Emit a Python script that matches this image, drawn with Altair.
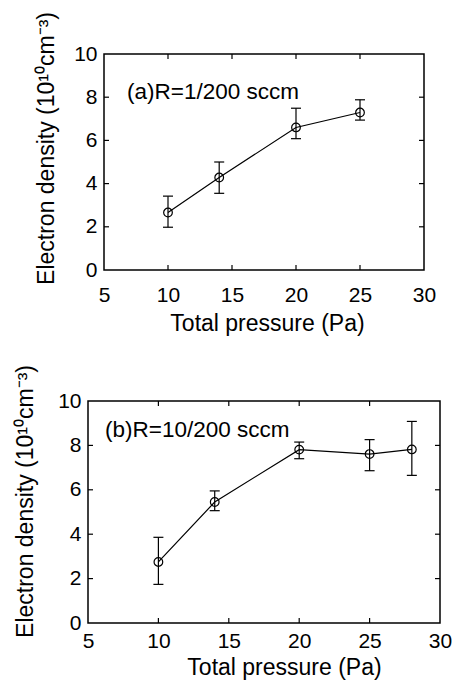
import altair as alt
import pandas as pd

# ---- data ----
xticks = [5, 10, 15, 20, 25, 30]
yticks = [0, 2, 4, 6, 8, 10]
inner_xticks = [10, 15, 20, 25]
inner_yticks = [2, 4, 6, 8]

p_a = [10, 14, 20, 25]
n_a = [2.66, 4.28, 6.60, 7.29]
lo_a = [1.98, 3.55, 6.08, 6.94]
hi_a = [3.42, 5.00, 7.49, 7.88]

p_b = [10, 14, 20, 25, 28]
n_b = [2.75, 5.45, 7.81, 7.61, 7.82]
lo_b = [1.74, 5.06, 7.40, 6.86, 6.65]
hi_b = [3.86, 5.95, 8.15, 8.26, 9.08]

label_a = "(a)R=1/200 sccm"
label_b = "(b)R=10/200 sccm"
xtitle = "Total pressure (Pa)"
ytitle = "Electron density (10\u00b9\u2070cm\u207b\u00b3)"

FONT = "Liberation Sans"


def panel(P, N, LO, HI, label, W, H, lab_pad_x, xt_x, xt_y, yt_x, yt_y, ann_x, ann_y):
    df = pd.DataFrame({"P": P, "n": N, "lo": LO, "hi": HI})
    xs = alt.Scale(domain=[5, 30], nice=False, zero=False)
    ys = alt.Scale(domain=[0, 10], nice=False, zero=False)
    xax = alt.Axis(values=xticks, grid=False, domain=False, ticks=False, tickSize=0,
                   labelPadding=lab_pad_x, labelBaseline="alphabetic", labelFlush=False,
                   labelOverlap=False, title=xtitle, titleX=xt_x, titleY=xt_y,
                   titleBaseline="alphabetic", titleAlign="center")
    yax = alt.Axis(values=yticks, grid=False, domain=False, ticks=False, tickSize=0,
                   labelPadding=7, labelFlush=False, labelOverlap=False,
                   title=ytitle, titleX=yt_x, titleY=yt_y, titleBaseline="bottom",
                   titleAlign="center", titleAngle=270)
    X = lambda f: alt.X(f, type="quantitative", scale=xs, axis=xax)
    Y = lambda f: alt.Y(f, type="quantitative", scale=ys, axis=yax)

    base = alt.Chart(df)
    line = base.mark_line(color="black", strokeWidth=1.2).encode(x=X("P"), y=Y("n"))
    pts = base.mark_point(shape="circle", filled=False, size=75, color="black",
                          strokeWidth=1.2, opacity=1).encode(x=X("P"), y=Y("n"))
    err = base.mark_rule(color="black", strokeWidth=1.2).encode(x=X("P"), y=Y("lo"), y2="hi")
    cap_lo = base.mark_tick(orient="horizontal", size=10, thickness=1.2, color="black",
                            opacity=1).encode(x=X("P"), y=Y("lo"))
    cap_hi = base.mark_tick(orient="horizontal", size=10, thickness=1.2, color="black",
                            opacity=1).encode(x=X("P"), y=Y("hi"))

    xt = alt.Chart(pd.DataFrame({"P": inner_xticks}))
    yt = alt.Chart(pd.DataFrame({"n": inner_yticks}))
    tb = xt.mark_rule(color="black", strokeWidth=1.2).encode(
        x=X("P"), y=alt.value(H), y2=alt.value(H - 5))
    tt = xt.mark_rule(color="black", strokeWidth=1.2).encode(
        x=X("P"), y=alt.value(0), y2=alt.value(5))
    tl = yt.mark_rule(color="black", strokeWidth=1.2).encode(
        y=Y("n"), x=alt.value(0), x2=alt.value(5))
    tr = yt.mark_rule(color="black", strokeWidth=1.2).encode(
        y=Y("n"), x=alt.value(W), x2=alt.value(W - 5))

    ann = alt.Chart(pd.DataFrame({"t": [label]})).mark_text(
        align="left", baseline="alphabetic", font=FONT, fontSize=22.5, color="black"
    ).encode(text="t:N", x=alt.value(ann_x), y=alt.value(ann_y))

    return alt.layer(tb, tt, tl, tr, err, cap_lo, cap_hi, line, pts, ann).properties(
        width=W, height=H)


a = panel(p_a, n_a, lo_a, hi_a, label_a, 320, 216, 31, 163, 60, -46, 94, 23, 45)
b = panel(p_b, n_b, lo_b, hi_b, label_b, 352, 222, 24, 196, 51, -51, 100, 17, 36)

chart = alt.vconcat(a, b, spacing=131, center=True, bounds="flush").properties(
    padding={"left": 13, "top": 10, "right": 0, "bottom": 0},
    background="white",
).configure_view(
    stroke="black", strokeWidth=1.5
).configure_axis(
    labelFont=FONT, labelFontSize=21, labelColor="black",
    titleFont=FONT, titleFontSize=23, titleColor="black", titleFontWeight="normal",
)

chart.save("out.html", embed_options={"renderer": "svg", "actions": False})
